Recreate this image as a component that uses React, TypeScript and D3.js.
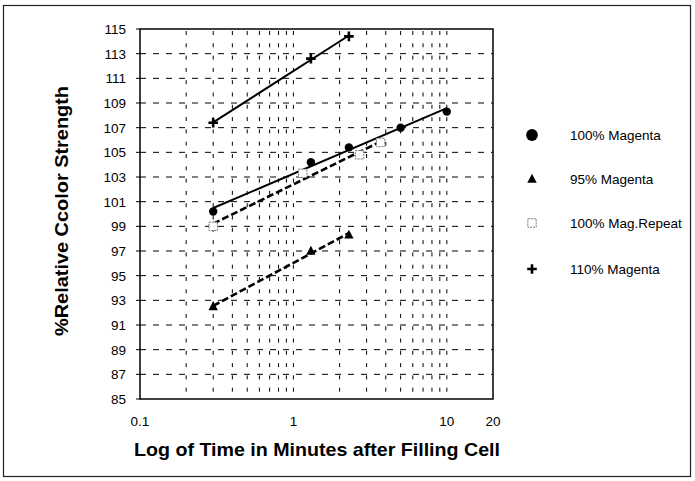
import React from "react";
import * as d3 from "d3";

if (typeof document !== "undefined") document.body.style.margin = "0";

const mag100X = [0.3, 1.3, 2.3, 5, 10];
const mag100Y = [100.2, 104.2, 105.4, 107.0, 108.3];
const mag95X = [0.3, 1.3, 2.3];
const mag95Y = [92.5, 97.0, 98.3];
const repeatX = [0.3, 1.15, 2.7, 3.7];
const repeatY = [99.0, 103.3, 104.8, 105.8];
const mag110X = [0.3, 1.3, 2.3];
const mag110Y = [107.4, 112.6, 114.4];

const seriesNames = ["100% Magenta", "95% Magenta", "100% Mag.Repeat", "110% Magenta"];
const yTicks = d3.range(85, 116, 2);
const xTickLabels = [0.1, 1, 10, 20];
const xGridValues = [0.2, 0.3, 0.4, 0.5, 0.6, 0.7, 0.8, 0.9, 1, 2, 3, 4, 5, 6, 7, 8, 9, 10];

const W = 695, H = 481;
const left = 140, right = 493, top = 29, bottom = 399;

const x = d3.scaleLog().domain([0.1, 20]).range([left, right]);
const y = d3.scaleLinear().domain([85, 115]).range([bottom, top]);

function fit(xs: number[], ys: number[]) {
  const lx = xs.map((v) => Math.log10(v));
  const mx = d3.mean(lx)!, my = d3.mean(ys)!;
  let num = 0, den = 0;
  lx.forEach((v, i) => { num += (v - mx) * (ys[i] - my); den += (v - mx) ** 2; });
  const b = num / den, a = my - b * mx;
  const x0 = d3.min(xs)!, x1 = d3.max(xs)!;
  return [[x0, a + b * Math.log10(x0)], [x1, a + b * Math.log10(x1)]] as [number, number][];
}

const line = d3.line<[number, number]>().x((d) => x(d[0])).y((d) => y(d[1]));

function Marker({ kind, cx, cy, s = 1 }: { kind: number; cx: number; cy: number; s?: number }) {
  if (kind === 0) return <circle cx={cx} cy={cy} r={4.2 * s} fill="#000" />;
  if (kind === 1) {
    const r = 5.2 * s;
    return <path d={`M${cx},${cy - r}L${cx + r * 0.9},${cy + r * 0.7}L${cx - r * 0.9},${cy + r * 0.7}Z`} fill="#000" />;
  }
  if (kind === 2) {
    const r = 4.2 * s;
    return <rect x={cx - r} y={cy - r} width={2 * r} height={2 * r} fill="#fff" stroke="#777" strokeWidth={1} strokeDasharray="2,1" />;
  }
  const r = 4.8 * s;
  return <path d={`M${cx - r},${cy}H${cx + r}M${cx},${cy - r}V${cy + r}`} stroke="#000" strokeWidth={2.6 * s} />;
}

export default function App() {
  const series = [
    { xs: mag100X, ys: mag100Y, dash: null, kind: 0 },
    { xs: mag95X, ys: mag95Y, dash: "7,3", kind: 1 },
    { xs: repeatX, ys: repeatY, dash: "7,3", kind: 2 },
    { xs: mag110X, ys: mag110Y, dash: null, kind: 3 },
  ];
  const legendY = [135, 179, 223, 269];
  return (
    <svg width={W} height={H} style={{ display: "block", fontFamily: "'Liberation Sans', Arial, sans-serif" }}>
      <rect x={0} y={0} width={W} height={H} fill="#fff" />
      <rect x={3.5} y={5.5} width={687} height={471} fill="none" stroke="#222" strokeWidth={1.2} />
      {/* grid */}
      {yTicks.filter((t) => t > 85 && t < 115).map((t) => (
        <line key={"h" + t} x1={left} x2={right} y1={y(t)} y2={y(t)} stroke="#000" strokeWidth={1} strokeDasharray="6,7" />
      ))}
      {xGridValues.map((v) => (
        <line key={"v" + v} x1={x(v)} x2={x(v)} y1={top} y2={bottom} stroke="#000" strokeWidth={1} strokeDasharray="4,8.3" strokeDashoffset={-2} />
      ))}
      {/* frame */}
      <rect x={left} y={top} width={right - left} height={bottom - top} fill="none" stroke="#000" strokeWidth={1.5} />
      {/* y ticks */}
      {yTicks.map((t) => (
        <g key={"yt" + t}>
          <line x1={left - 4} x2={left} y1={y(t)} y2={y(t)} stroke="#000" />
          <text x={126} y={y(t)} dy="0.36em" textAnchor="end" fontSize={13.5}>{t}</text>
        </g>
      ))}
      {xTickLabels.map((t) => (
        <text key={"xt" + t} x={x(t)} y={426} textAnchor="middle" fontSize={13.5}>{t}</text>
      ))}
      {/* trendlines */}
      {series.map((s, i) => (
        <path key={"l" + i} d={line(fit(s.xs, s.ys))!} fill="none" stroke="#000" strokeWidth={s.dash ? 2.6 : 2} strokeDasharray={s.dash ?? undefined} />
      ))}
      {/* markers */}
      {series.map((s, i) => s.xs.map((v, j) => (
        <Marker key={"m" + i + "-" + j} kind={s.kind} cx={x(v)} cy={y(s.ys[j])} />
      )))}
      {/* legend */}
      {seriesNames.map((n, i) => (
        <g key={"lg" + i}>
          <Marker kind={i} cx={532} cy={legendY[i]} s={i === 0 ? 1.4 : 1.0} />
          <text x={570} y={legendY[i]} dy="0.36em" fontSize={13.5}>{n}</text>
        </g>
      ))}
      {/* axis titles */}
      <text x={317} y={456} textAnchor="middle" fontSize={18.5} fontWeight="bold" textLength={366} lengthAdjust="spacingAndGlyphs">Log of Time in Minutes after Filling Cell</text>
      <text transform={`translate(68,211) rotate(-90)`} textAnchor="middle" fontSize={17.5} fontWeight="bold" textLength={250} lengthAdjust="spacingAndGlyphs">%Relative Ccolor Strength</text>
    </svg>
  );
}
